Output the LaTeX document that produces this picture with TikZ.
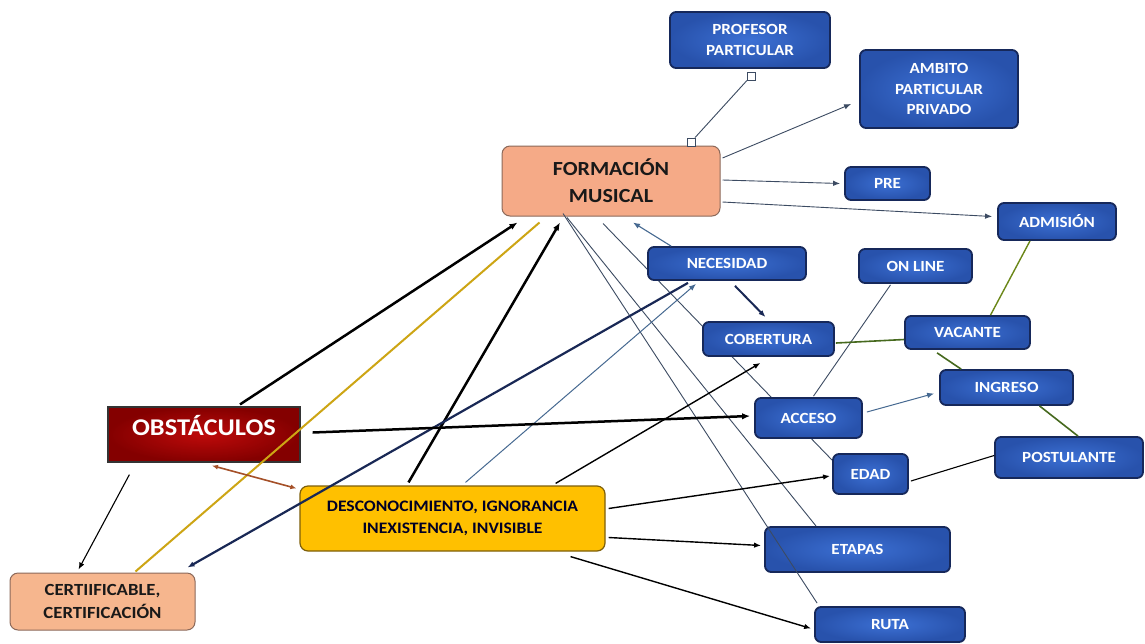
\documentclass[tikz,border=0pt]{standalone}
\usepackage{fontspec}
\setmainfont{Carlito}[FakeStretch=1.1]
\usetikzlibrary{calc,arrows.meta,backgrounds}
\definecolor{boxblue}{RGB}{40,82,172}
\definecolor{boxbluein}{RGB}{60,112,212}
\definecolor{boxedge}{RGB}{22,40,90}
\definecolor{peach}{RGB}{245,170,135}
\definecolor{peachedge}{RGB}{140,105,90}
\definecolor{certpeach}{RGB}{246,182,142}
\definecolor{darkred}{RGB}{165,0,0}
\definecolor{darkredin}{RGB}{190,10,10}
\definecolor{gold}{RGB}{255,192,0}
\definecolor{goldedge}{RGB}{125,95,10}
\definecolor{thinline}{RGB}{60,75,98}
\definecolor{steel}{RGB}{70,105,145}
\definecolor{navy}{RGB}{25,40,85}
\definecolor{yline}{RGB}{205,165,20}
\definecolor{gline}{RGB}{70,105,30}
\definecolor{brownline}{RGB}{165,80,40}
\begin{document}
\begin{tikzpicture}[x=1pt,y=-1pt,
  bbox/.style={rectangle, rounded corners=6pt, draw=boxedge, line width=1.8pt,
    inner color=boxbluein, outer color=boxblue, text=white, align=center, inner sep=0pt,
    font=\bfseries\fontsize{15.5}{20.5}\selectfont},
  pbox/.style={rectangle, rounded corners=8pt, draw=peachedge, line width=1pt,
    fill=peach, text=black!90, align=center, inner sep=0pt},
  arr/.style={-{Latex[length=7pt,width=5.5pt]}},
  thin/.style={draw=thinline, line width=0.9pt},
  thickarr/.style={-{Latex[length=8pt,width=6.5pt]}, draw=black, line width=2.5pt},
  medarr/.style={arr, draw=black, line width=1.4pt},
  sq/.style={rectangle, draw=thinline, fill=white, line width=0.9pt, minimum size=8pt, inner sep=0pt}
]
\useasboundingbox (0,0) rectangle (1145,643);

% nodes
\node[bbox, minimum width=160pt, minimum height=56pt] (prof) at (750,40) {PROFESOR\\PARTICULAR};
\node[bbox, minimum width=158pt, minimum height=78pt] (amb) at (939,89) {AMBITO\\PARTICULAR\\PRIVADO};
\node[pbox, minimum width=218pt, minimum height=70pt, font=\bfseries\fontsize{20}{27}\selectfont] (form) at (611,181) {FORMACIÓN\\MUSICAL};
\node[bbox, minimum width=85pt, minimum height=33pt] (pre) at (887.5,183.5) {PRE};
\node[bbox, minimum width=118pt, minimum height=37pt] (adm) at (1057,221.5) {ADMISIÓN};
\node[bbox, minimum width=158pt, minimum height=33pt] (nec) at (727,263.5) {NECESIDAD};
\node[bbox, minimum width=113pt, minimum height=34pt] (online) at (915.5,266) {ON LINE};
\node[bbox, minimum width=131pt, minimum height=34pt] (cob) at (768.5,339) {COBERTURA};
\node[bbox, minimum width=125pt, minimum height=33pt] (vac) at (967.5,332.5) {VACANTE};
\node[bbox, minimum width=133pt, minimum height=35pt] (ing) at (1006.5,387.5) {INGRESO};
\node[bbox, minimum width=107pt, minimum height=40pt] (acc) at (808.5,418) {ACCESO};
\node[rectangle, draw=black!80, line width=1.2pt, inner color=darkredin, outer color=darkred!80!black,
  text=white, inner sep=0pt, minimum width=192pt, minimum height=55pt, text depth=19pt,
  font=\bfseries\fontsize{24}{28}\selectfont] (obst) at (204,434.5) {OBSTÁCULOS};
\node[bbox, minimum width=148pt, minimum height=41pt] (post) at (1069,457.5) {POSTULANTE};
\node[bbox, minimum width=75pt, minimum height=40pt] (edad) at (870.5,474) {EDAD};
\node[rectangle, rounded corners=8pt, draw=goldedge, line width=1.2pt, fill=gold, text=black!85!blue,
  align=center, inner sep=0pt, minimum width=305pt, minimum height=65pt,
  font=\bfseries\fontsize{16}{22}\selectfont] (desc) at (452.5,518.5) {DESCONOCIMIENTO, IGNORANCIA\\INEXISTENCIA, INVISIBLE};
\node[bbox, minimum width=185pt, minimum height=45pt] (etapas) at (857.5,549.5) {ETAPAS};
\node[pbox, fill=certpeach, minimum width=185pt, minimum height=57pt, font=\bfseries\fontsize{17}{23}\selectfont] (cert) at (102.5,601.5) {CERTIIFICABLE,\\CERTIFICACIÓN};
\node[bbox, minimum width=150pt, minimum height=35pt] (ruta) at (890,624.5) {RUTA};

% white page and connector hidden behind boxes
\begin{pgfonlayer}{background}
\fill[white] (0,0) rectangle (1145,643);
\draw[thin] ($(form.south)+(-8,7)$) -- ($(edad.north west)+(0,7)$);
\end{pgfonlayer}

% squares on profesor link
\node[sq] (sq1) at (691,142) {};
\node[sq] (sq2) at (751,76) {};
\draw[thin] (sq1) -- (sq2);

% connectors from FORMACION
\draw[thin, arr] ($(form.east)+(2,-23)$) -- ($(amb.west)+(-8,15)$);
\draw[thin, arr] ($(form.east)+(2,-1)$) -- ($(pre.west)+(-4,0)$);
\draw[thin, arr] ($(form.east)+(2,21)$) -- ($(adm.west)+(-5,-5)$);
\draw[thin] ($(form.south)+(-48,-3)$) -- ($(ruta.north west)+(3,-3)$);
\draw[thin] ($(form.south)+(-44,1)$) -- ($(etapas.north west)+(52,0)$);

% into FORMACION
\draw[thickarr] ($(obst.north)+(36,-2)$) -- ($(form.south west)+(16,6)$);
\draw[thickarr] ($(desc.north)+(-44,-3)$) -- ($(form.south)+(-51,6)$);
\draw[draw=steel, line width=1.1pt, arr] ($(nec.north west)+(24,0)$) -- ($(form.south)+(22,6)$);

% yellow line
\draw[draw=yline, line width=2pt] ($(form.south west)+(38,6)$) -- ($(cert.north)+(33,-1)$);

% necesidad
\draw[draw=navy, line width=2.2pt, arr] ($(nec.south)+(-39,2)$) -- ($(cert.north east)+(-8,-5)$);
\draw[draw=steel, line width=1pt, arr] ($(desc.north)+(13,-3)$) -- ($(nec.south)+(-31,3)$);
\draw[draw=navy, line width=2pt, arr] ($(nec.south)+(8,5)$) -- ($(cob.north)+(-3,-4)$);

% obstaculos
\draw[thickarr] ($(obst.east)+(12,-2)$) -- ($(acc.west)+(-4,-2)$);
\draw[draw=black, line width=1.1pt, arr] ($(obst.south west)+(22,12)$) -- ($(cert.north)+(-24,-3)$);
\draw[draw=brownline, line width=1.6pt, {Latex[length=6pt,width=5pt]}-{Latex[length=6pt,width=5pt]}]
  ($(obst.south)+(8,3)$) -- ($(desc.north west)+(-3,3)$);

% desconocimiento
\draw[medarr] ($(desc.north east)+(-50,-2)$) -- ($(cob.south)+(-8,6)$);
\draw[medarr] ($(desc.east)+(3,-10)$) -- ($(edad.west)+(-2,2)$);
\draw[medarr] ($(desc.east)+(3,19)$) -- ($(etapas.west)+(-3,-4)$);
\draw[medarr] ($(desc.south east)+(-35,5)$) -- ($(ruta.west)+(-3,4)$);

% right side
\draw[thin] ($(acc.north)+(5,-1)$) -- ($(online.south)+(-25,1)$);
\draw[draw=steel, line width=1pt, arr] ($(acc.east)+(4,-6)$) -- ($(ing.west)+(-5,6)$);
\draw[draw=gline, line width=1.6pt] ($(cob.east)+(1,4)$) -- ($(vac.west)+(0,7)$);
\draw[draw=gline!80!yellow, line width=1.4pt] ($(vac.north)+(23,0)$) -- ($(adm.south)+(-27,0)$);
\draw[draw=gline, line width=1.6pt] ($(vac.south west)+(33,3)$) -- ($(ing.north west)+(22,0)$);
\draw[draw=gline, line width=1.6pt] ($(ing.south)+(33,0)$) -- ($(post.north)+(9,0)$);
\draw[draw=black, line width=1.1pt] ($(edad.east)+(2,7)$) -- ($(post.west)+(0,-2)$);
\end{tikzpicture}
\end{document}
